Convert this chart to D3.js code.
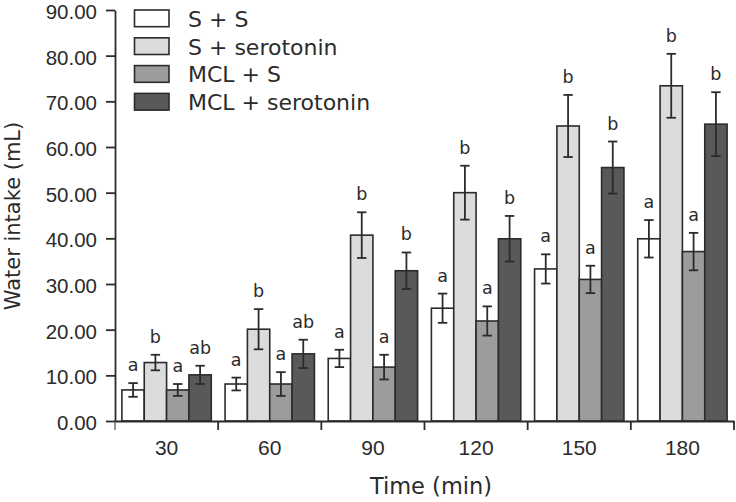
<!DOCTYPE html>
<html>
<head>
<meta charset="utf-8">
<script src="https://cdn.jsdelivr.net/npm/d3@7"></script>
<style>
  body { margin: 0; background: #fff; }
  svg { display: block; font-family: "DejaVu Sans", sans-serif; }
</style>
</head>
<body>
<svg width="736" height="502"></svg>
<script>
// categories and series
var times = ['30', '60', '90', '120', '150', '180'];
var groups = ['S + S', 'S + serotonin', 'MCL + S', 'MCL + serotonin'];
var yTicks = [0, 10, 20, 30, 40, 50, 60, 70, 80, 90];

// mean water intake (mL) per group, one value per time point
var sS       = [6.8, 8.1, 13.7, 24.7, 33.3, 39.9];
var sSer     = [12.8, 20.1, 40.7, 50.0, 64.6, 73.4];
var mclS     = [6.8, 8.1, 11.8, 21.9, 31.0, 37.1];
var mclSer   = [10.1, 14.7, 32.9, 39.9, 55.5, 65.0];

// SEM
var sSErr     = [1.5, 1.4, 1.9, 3.2, 3.2, 4.1];
var sSerErr   = [1.7, 4.4, 5.0, 5.9, 6.8, 7.0];
var mclSErr   = [1.3, 2.6, 2.7, 3.2, 3.0, 4.1];
var mclSerErr = [2.0, 3.1, 4.0, 5.0, 5.7, 7.0];

// significance letters
var sSLet     = ['a', 'a', 'a', 'a', 'a', 'a'];
var sSerLet   = ['b', 'b', 'b', 'b', 'b', 'b'];
var mclSLet   = ['a', 'a', 'a', 'a', 'a', 'a'];
var mclSerLet = ['ab', 'ab', 'b', 'b', 'b', 'b'];

var fills = ['#ffffff', '#dbdcdd', '#9b9c9e', '#58595b'];
var ink = '#2b2b2b';

var means = [sS, sSer, mclS, mclSer];
var errs = [sSErr, sSerErr, mclSErr, mclSerErr];
var lets = [sSLet, sSerLet, mclSLet, mclSerLet];

var data = [];
times.forEach(function(t, i){
  groups.forEach(function(g, j){
    data.push({ time: t, group: g, gi: j, v: means[j][i], e: errs[j][i], l: lets[j][i] });
  });
});

var svg = d3.select('svg');

var x = d3.scaleBand().domain(times).range([115, 734]).padding(0);
var xi = d3.scaleBand().domain(groups).range([6.9, x.bandwidth() - 6.9]).padding(0);
var y = d3.scaleLinear().domain([0, 90]).range([421, 10]);

// bars
svg.append('g').selectAll('rect')
  .data(data)
  .enter()
  .append('rect')
    .attr('x', function(d){ return x(d.time) + xi(d.group) })
    .attr('y', function(d){ return y(d.v) })
    .attr('width', xi.bandwidth())
    .attr('height', function(d){ return y(0) - y(d.v) })
    .style('fill', function(d){ return fills[d.gi] })
    .style('stroke', ink)
    .style('stroke-width', 1.6);

// error bars
var eb = svg.append('g')
  .style('stroke', ink)
  .style('stroke-width', 1.8);

data.forEach(function(d){
  var cx = x(d.time) + xi(d.group) + xi.bandwidth() / 2;
  eb.append('line').attr('x1', cx).attr('x2', cx).attr('y1', y(d.v + d.e)).attr('y2', y(d.v - d.e));
  eb.append('line').attr('x1', cx - 4.7).attr('x2', cx + 4.7).attr('y1', y(d.v + d.e)).attr('y2', y(d.v + d.e));
  eb.append('line').attr('x1', cx - 4.7).attr('x2', cx + 4.7).attr('y1', y(d.v - d.e)).attr('y2', y(d.v - d.e));
});

// letters
svg.append('g').selectAll('text')
  .data(data)
  .enter()
  .append('text')
    .attr('x', function(d){ return x(d.time) + xi(d.group) + xi.bandwidth() / 2 })
    .attr('y', function(d){ return y(d.v + d.e) - 12 })
    .attr('text-anchor', 'middle')
    .style('font-size', '17.5px')
    .style('fill', ink)
    .text(function(d){ return d.l });

// y axis
var yAxis = svg.append('g')
  .attr('transform', 'translate(115,0)')
  .call(d3.axisLeft(y).tickValues(yTicks).tickFormat(d3.format('.2f')).tickSize(9).tickPadding(9).tickSizeOuter(0));
yAxis.selectAll('text')
  .attr('dy', '0.42em')
  .style('font-size', '20.5px')
  .style('fill', ink);

// x axis
var xAxis = svg.append('g')
  .attr('transform', 'translate(0,421)')
  .call(d3.axisBottom(x).tickSize(0).tickPadding(19).tickSizeOuter(0));
xAxis.selectAll('text').style('font-size', '21px').style('fill', ink);
xAxis.selectAll('.tick')
  .append('line')
    .attr('x1', x.bandwidth() / 2).attr('x2', x.bandwidth() / 2)
    .attr('y1', 0).attr('y2', 9)
    .attr('stroke', ink);
xAxis.append('line')
  .attr('x1', x.range()[0]).attr('x2', x.range()[0])
  .attr('y1', 0).attr('y2', 9)
  .attr('stroke', ink);

svg.selectAll('.domain, .tick line').style('stroke', ink).style('stroke-width', 1.8);

// axis titles
svg.append('text')
  .attr('x', 431).attr('y', 494)
  .attr('text-anchor', 'middle')
  .style('font-size', '22.5px')
  .style('fill', ink)
  .text('Time (min)');

svg.append('text')
  .attr('transform', 'translate(20,216) rotate(-90)')
  .attr('text-anchor', 'middle')
  .style('font-size', '21px')
  .style('fill', ink)
  .text('Water intake (mL)');

// legend
var leg = svg.append('g').selectAll('g')
  .data(groups)
  .enter()
  .append('g')
    .attr('transform', function(d, i){ return 'translate(134.5,' + (10 + i * 27.8) + ')' });

leg.append('rect')
  .attr('width', 34.5).attr('height', 16.7)
  .style('fill', function(d, i){ return fills[i] })
  .style('stroke', ink)
  .style('stroke-width', 1.6);

leg.append('text')
  .attr('x', 53.5).attr('y', 16.8)
  .style('font-size', '22px')
  .style('fill', ink)
  .text(function(d){ return d });
</script>
</body>
</html>
